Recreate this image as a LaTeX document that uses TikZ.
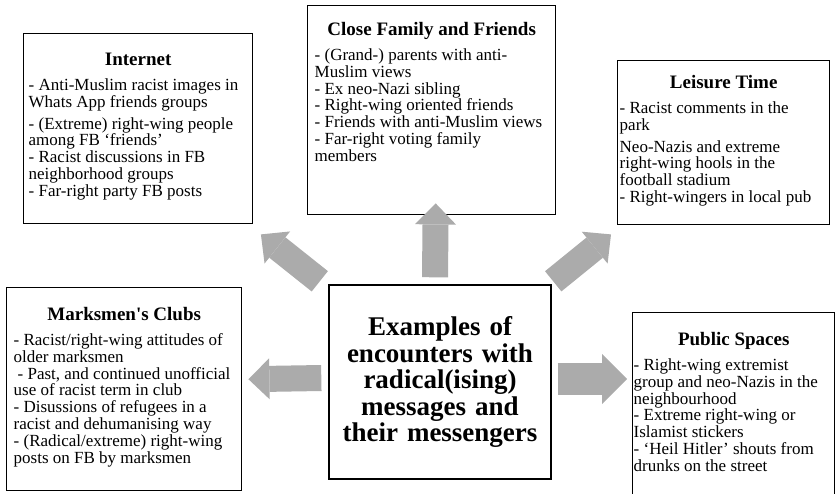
\documentclass[tikz,border=0pt]{standalone}
\usepackage{fontspec}
\setmainfont{Liberation Serif}
\usepackage{tikz}
\usetikzlibrary{arrows.meta,calc}

\definecolor{arrowgray}{HTML}{ABABAB}

% #1 width, #2 height, #3 space above title, #4 indent of items, #5 title, #6 items
\newcommand{\boxcontent}[6]{%
  \parbox[c][#2][t]{#1}{%
    \vspace*{#3}%
    {\centering\fontsize{19}{21}\selectfont\bfseries\rule{0pt}{14pt}#5\par}%
    \vspace{8pt}%
    {\raggedright\leftskip=#4\fontsize{17}{16.8}\selectfont #6\par}}}

\begin{document}
\begin{tikzpicture}[
    x=1pt, y=-1pt,
    topicbox/.style={draw, line width=1.4pt, fill=white, inner sep=0pt, anchor=north west},
    centerbox/.style={draw, line width=1.4pt, fill=white, minimum width=222pt, minimum height=194pt,
      text width=215pt, align=center, font=\fontsize{27}{26.5}\selectfont\bfseries},
    bigarrow/.style={draw=arrowgray, line width=26pt, -{Triangle[width=41pt, length=21pt, line width=0pt]}},
]
\useasboundingbox (0,0) rectangle (835,493);
\clip (0,0) rectangle (835,493);

  % centre
  \node[centerbox] (center) at (440,382) {Examples of\\ encounters with\\ radical(ising)\\ messages and\\ their messengers};

  % places of encounter
  \node[topicbox] (internet) at (23,33) {\boxcontent{229pt}{190pt}{18pt}{5pt}{Internet}{%
    - Anti-Muslim racist images in\\ Whats App friends groups\\[5pt]
    - (Extreme) right-wing people\\ among FB ‘friends’\\
    - Racist discussions in FB\\ neighborhood groups\\
    - Far-right party FB posts}};
  \node[topicbox] (family) at (307,5) {\boxcontent{248pt}{209pt}{16pt}{7pt}{Close Family and Friends}{%
    - (Grand-) parents with anti-\\ Muslim views\\
    - Ex neo-Nazi sibling\\
    - Right-wing oriented friends\\
    - Friends with anti-Muslim views\\
    - Far-right voting family\\ members}};
  \node[topicbox] (leisure) at (617,60) {\boxcontent{212pt}{164pt}{14pt}{2pt}{Leisure Time}{%
    - Racist comments in the\\ park\\[5pt]
    Neo-Nazis and extreme\\ right-wing hools in the\\ football stadium\\
    - Right-wingers in local pub}};
  \node[topicbox] (marksmen) at (6,287) {\boxcontent{235pt}{203pt}{19pt}{7pt}{Marksmen\textquotesingle s Clubs}{%
    - Racist/right-wing attitudes of\\ older marksmen\\
    \hspace*{4pt}- Past, and continued unofficial\\ use of racist term in club\\
    - Disussions of refugees in a\\ racist and dehumanising way\\
    - (Radical/extreme) right-wing\\ posts on FB by marksmen}};
  \node[topicbox] (public) at (632,312) {\boxcontent{202pt}{200pt}{19pt}{1pt}{Public Spaces}{%
    - Right-wing extremist\\ group and neo-Nazis in the\\ neighbourhood\\
    - Extreme right-wing or\\ Islamist stickers\\
    - ‘Heil Hitler’ shouts from\\ drunks on the street}};

  % arrows
  \draw[bigarrow] ([xshift=-5pt,yshift=7pt]center.north) -- ([xshift=4pt,yshift=12pt]family.south);
  \draw[bigarrow] ([xshift=-8.5pt,yshift=3pt]center.north west) -- ([xshift=7.5pt,yshift=-10pt]internet.south east);
  \draw[bigarrow] ([xshift=1.5pt,yshift=3pt]center.north east) -- ([xshift=-6pt,yshift=-9pt]leisure.south west);
  \draw[bigarrow] ([xshift=-7pt,yshift=4pt]center.west) -- ([xshift=6pt,yshift=10pt]marksmen.east);
  \draw[bigarrow, line width=32pt, -{Triangle[width=50pt, length=25pt, line width=0pt]}]
    ([xshift=6pt,yshift=3pt]center.east) -- ([xshift=-5pt,yshift=-67pt]public.north west);
\end{tikzpicture}
\end{document}
